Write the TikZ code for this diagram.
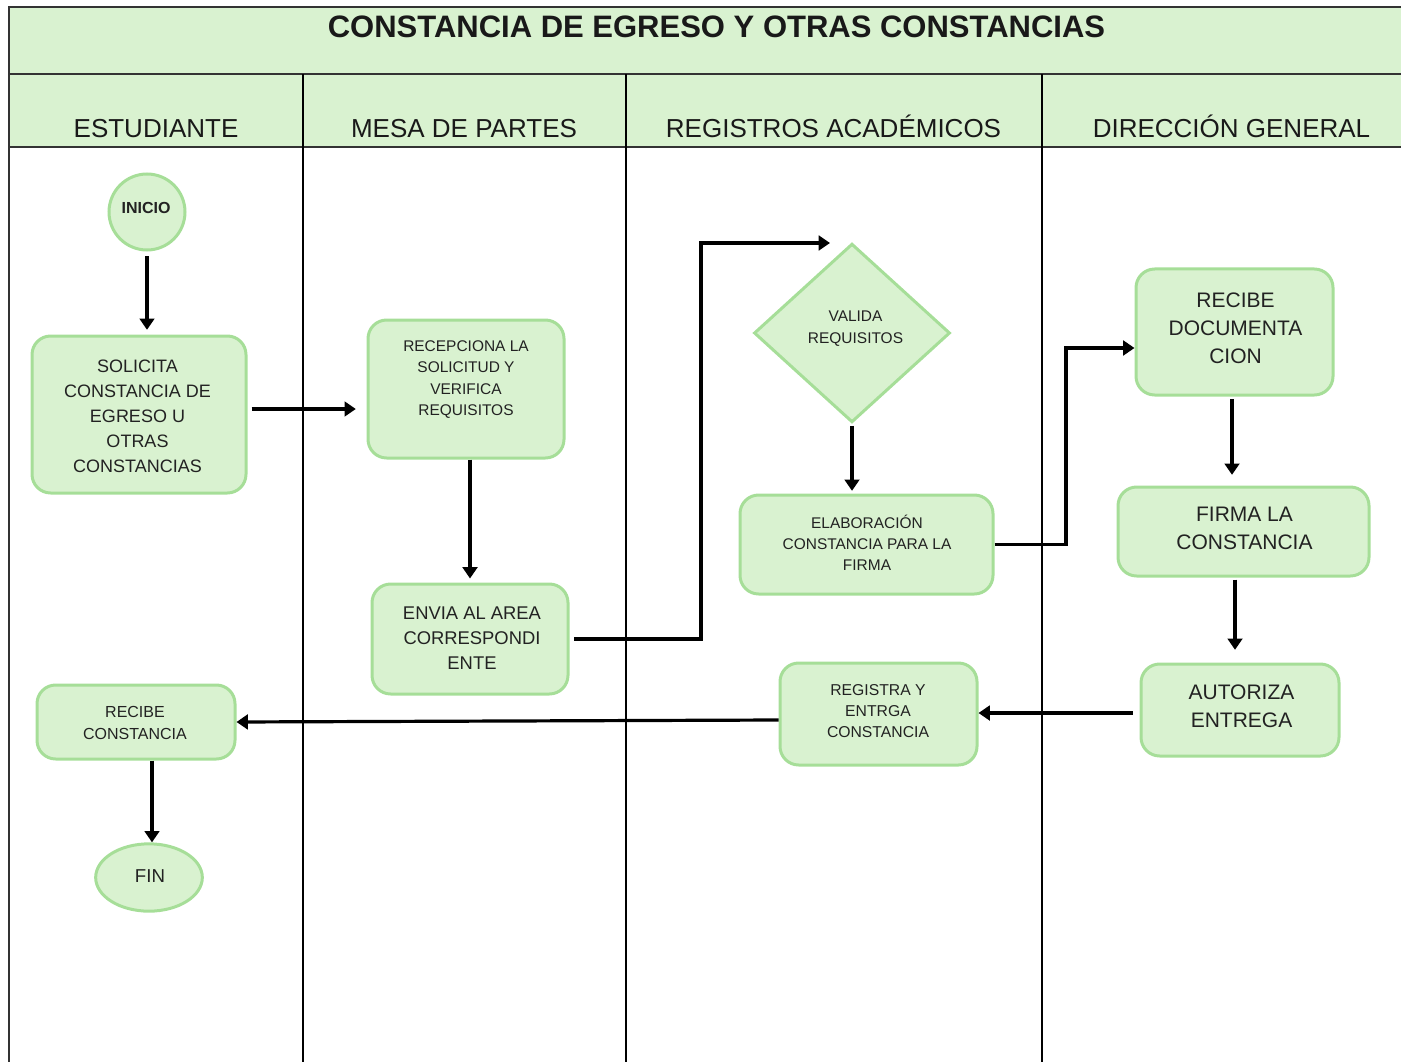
\documentclass[tikz,border=0pt]{standalone}
\usepackage{fontspec}
\setmainfont{Liberation Sans}
\usetikzlibrary{arrows.meta,shapes.geometric,fit}
\definecolor{gfill}{HTML}{D9F2D0}
\definecolor{gline}{HTML}{A6DE98}
\definecolor{tcol}{HTML}{222222}
\newcommand\fsz[2]{\fontsize{#1}{#2}\selectfont}
\begin{document}
\begin{tikzpicture}[x=0.75pt,y=-0.75pt,
  box/.style={draw=gline, fill=gfill, line width=2.25pt, rounded corners=14pt, inner sep=0pt},
  shp/.style={draw=gline, fill=gfill, line width=2.25pt, inner sep=0pt},
  txt/.style={text=tcol, align=center, inner sep=0pt},
  head/.style={text=black!90, inner sep=0pt, anchor=base},
  arr/.style={line width=2.4pt, -{Triangle[length=8.5pt,width=11pt]}},
  hline/.style={draw=black!80, line width=1.6pt},
  lane/.style={draw=black, line width=1.2pt}
]
\useasboundingbox (0,0) rectangle (1401,1062);
% header
\fill[gfill] (9,7) rectangle (1401,147);
\draw[hline] (1401,7) -- (9,7) -- (9,1062);
\draw[hline] (9,74) -- (1401,74);
\draw[hline] (9,147) -- (1401,147);
\draw[lane] (303,74) -- (303,1062);
\draw[lane] (626,74) -- (626,1062);
\draw[lane] (1042,74) -- (1042,1062);
\node[head, font=\fsz{23.25pt}{28pt}\bfseries] (title) at (716.5,37.5) {CONSTANCIA DE EGRESO Y OTRAS CONSTANCIAS};
\node[head, font=\fsz{19.5pt}{24pt}] (h1) at (156,137.5) {ESTUDIANTE};
\node[head, font=\fsz{19.5pt}{24pt}] (h2) at (464,137.5) {MESA DE PARTES};
\node[head, font=\fsz{19.5pt}{24pt}] (h3) at (833.5,137.5) {REGISTROS ACADÉMICOS};
\node[head, font=\fsz{19.5pt}{24pt}] (h4) at (1231.5,137.5) {DIRECCIÓN GENERAL};

% shapes
\node[shp, circle, minimum size=57pt] (ini) at (147,212) {};
\node[box, fit={(32,336)(246,493)}] (sol) {};
\node[box, fit={(368,320)(564,458)}] (rec) {};
\node[box, fit={(372,584)(568,694)}] (env) {};
\node[shp, diamond, minimum width=147pt, minimum height=134pt] (val) at (852,333) {};
\node[box, fit={(740,495)(993,594)}] (elab) {};
\node[box, fit={(1136,269)(1333,395)}] (recdoc) {};
\node[box, fit={(1118,487)(1369,576)}] (firma) {};
\node[box, fit={(1141,664)(1339,756)}] (aut) {};
\node[box, fit={(780,663)(977,765)}] (reg) {};
\node[box, fit={(37,685)(235,759)}] (rc) {};
\node[shp, ellipse, minimum width=80pt, minimum height=50.5pt] (fin) at (149,877.5) {};

% texts
\node[txt, font=\fsz{12pt}{14pt}\bfseries] (ini-t) at (146,208) {INICIO};
\node[txt, font=\fsz{13.5pt}{18.75pt}] (sol-t) at (137.5,416) {SOLICITA\\CONSTANCIA DE\\EGRESO U\\OTRAS\\CONSTANCIAS};
\node[txt, font=\fsz{11.6pt}{15.9pt}] (rec-t) at (466,379.5) {RECEPCIONA LA\\SOLICITUD Y\\VERIFICA\\REQUISITOS};
\node[txt, font=\fsz{13.8pt}{18.75pt}] (env-t) at (472,638) {ENVIA AL AREA\\CORRESPONDI\\ENTE};
\node[txt, font=\fsz{11.6pt}{16.5pt}] (val-t) at (855.5,329) {VALIDA\\REQUISITOS};
\node[txt, font=\fsz{11.6pt}{15.75pt}] (elab-t) at (867,543) {ELABORACIÓN\\CONSTANCIA PARA LA\\FIRMA};
\node[txt, font=\fsz{15.75pt}{21pt}] (recdoc-t) at (1235.5,328) {RECIBE\\DOCUMENTA\\CION};
\node[txt, font=\fsz{15.75pt}{21pt}] (firma-t) at (1244.5,528) {FIRMA LA\\CONSTANCIA};
\node[txt, font=\fsz{15.75pt}{21pt}] (aut-t) at (1241.5,706) {AUTORIZA\\ENTREGA};
\node[txt, font=\fsz{11.8pt}{15.75pt}] (reg-t) at (878,711) {REGISTRA Y\\ENTRGA\\CONSTANCIA};
\node[txt, font=\fsz{12pt}{16.5pt}] (rc-t) at (135,723) {RECIBE\\CONSTANCIA};
\node[txt, font=\fsz{14pt}{16pt}] (fin-t) at (150,876) {FIN};

% helper coordinates
\coordinate (c409) at (0,409);
\coordinate (bend1) at (701,243);
\coordinate (vin) at (830,243);
\coordinate (bend2) at (1066,348);
\coordinate (c720) at (0,720);
\coordinate (c713) at (0,713);
\coordinate (x1232) at (1232,0);
\coordinate (x1235) at (1235,0);
\coordinate (x152) at (152,0);

% connectors
\draw[arr, shorten <=3.5pt, shorten >=3.5pt] (ini.south) -- (ini.south |- sol.north);
\draw[arr, shorten <=3pt, shorten >=8pt] (sol.east |- c409) -- (rec.west |- c409);
\draw[arr, shorten >=3pt] (rec.south -| env.north) -- (env.north);
\draw[arr, shorten <=3.5pt] (env.east) -| (bend1) -- (vin);
\draw[arr, shorten <=1.5pt, shorten >=2pt] (val.south) -- (val.south |- elab.north);
\draw[arr] (elab.east) -| (bend2) -- (bend2 -| recdoc.west);
\draw[arr, shorten <=2pt, shorten >=8pt] (recdoc.south -| x1232) -- (firma.north -| x1232);
\draw[arr, shorten <=1.5pt, shorten >=9.5pt] (firma.south -| x1235) -- (aut.north -| x1235);
\draw[arr, shorten <=5pt] (aut.west |- c713) -- (reg.east |- c713);
\draw[arr] (reg.west |- c720) -- (rc.east);
\draw[arr] (rc.south -| x152) -- (fin.north -| x152);
\end{tikzpicture}
\end{document}
